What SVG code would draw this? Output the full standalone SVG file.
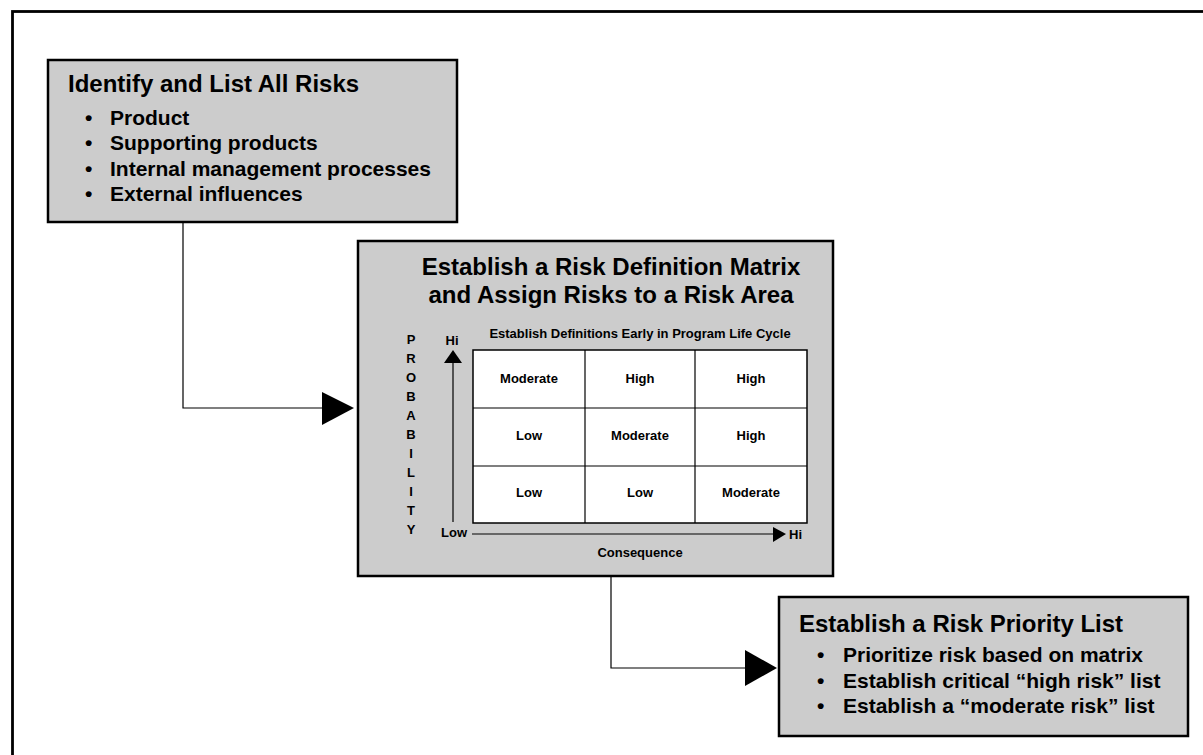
<svg xmlns="http://www.w3.org/2000/svg" width="1203" height="755" viewBox="0 0 1203 755">
<style>
.box{fill:#cccccc;stroke:#000;stroke-width:2.5}
.t{font-family:"Liberation Sans",Arial,sans-serif;font-weight:bold;fill:#000}
.title{font-size:24px}
.item{font-size:21px}
.sm{font-size:13px}
.ln{fill:none;stroke:#000;stroke-width:1.2}
.cell{fill:#fff;stroke:#000;stroke-width:1.5}
.hd{fill:#000}
</style>
<rect x="0" y="0" width="1203" height="755" fill="#fff"/>
<rect id="frame" x="12.5" y="11.5" width="1210" height="760" fill="none" stroke="#000" stroke-width="2.8"/>

<g id="connectors">
<polyline class="ln" points="183,222 183,408 323,408"/>
<polygon class="hd" points="322,392 354,408 322,425"/>
<polyline class="ln" points="611,576 611,668 746,668"/>
<polygon class="hd" points="745,650 777,668 745,686"/>
</g>

<g id="node-identify">
<rect class="box" x="48" y="60" width="409" height="162"/>
<text class="t title" x="68" y="92">Identify and List All Risks</text>
<text class="t item" x="85" y="125">•</text><text class="t item" x="110" y="125">Product</text>
<text class="t item" x="85" y="150">•</text><text class="t item" x="110" y="150">Supporting products</text>
<text class="t item" x="85" y="176">•</text><text class="t item" x="110" y="176">Internal management processes</text>
<text class="t item" x="85" y="201">•</text><text class="t item" x="110" y="201">External influences</text>
</g>

<g id="node-matrix">
<rect class="box" x="358" y="241" width="475" height="335"/>
<text class="t title" x="611" y="275" text-anchor="middle">Establish a Risk Definition Matrix</text>
<text class="t title" x="611" y="303" text-anchor="middle">and Assign Risks to a Risk Area</text>
<text class="t sm" x="640" y="338" text-anchor="middle">Establish Definitions Early in Program Life Cycle</text>
<rect class="cell" x="473" y="350" width="334" height="173"/>
<line class="ln" x1="585" y1="350" x2="585" y2="523" stroke-width="1.5"/>
<line class="ln" x1="695" y1="350" x2="695" y2="523" stroke-width="1.5"/>
<line class="ln" x1="473" y1="408" x2="807" y2="408" stroke-width="1.5"/>
<line class="ln" x1="473" y1="466" x2="807" y2="466" stroke-width="1.5"/>
<g text-anchor="middle">
<text class="t sm" x="529" y="383">Moderate</text>
<text class="t sm" x="640" y="383">High</text>
<text class="t sm" x="751" y="383">High</text>
<text class="t sm" x="529" y="440">Low</text>
<text class="t sm" x="640" y="440">Moderate</text>
<text class="t sm" x="751" y="440">High</text>
<text class="t sm" x="529" y="497">Low</text>
<text class="t sm" x="640" y="497">Low</text>
<text class="t sm" x="751" y="497">Moderate</text>
</g>
<line class="ln" x1="453" y1="522" x2="453" y2="360"/>
<polygon class="hd" points="444,363 453,350 462,363"/>
<line class="ln" x1="472" y1="534" x2="775" y2="534"/>
<polygon class="hd" points="773,527 786,534 773,542"/>
<text class="t sm" x="452" y="345" text-anchor="middle">Hi</text>
<text class="t sm" x="441" y="537">Low</text>
<text class="t sm" x="789" y="539">Hi</text>
<text class="t sm" x="640" y="557" text-anchor="middle">Consequence</text>
<g text-anchor="middle" class="t sm">
<text x="411" y="344">P</text>
<text x="411" y="363">R</text>
<text x="411" y="382">O</text>
<text x="411" y="401">B</text>
<text x="411" y="420">A</text>
<text x="411" y="439">B</text>
<text x="411" y="458">I</text>
<text x="411" y="477">L</text>
<text x="411" y="496">I</text>
<text x="411" y="515">T</text>
<text x="411" y="534">Y</text>
</g>
</g>

<g id="node-priority">
<rect class="box" x="779" y="597" width="409" height="139"/>
<text class="t title" x="799" y="632">Establish a Risk Priority List</text>
<text class="t item" x="817" y="662">•</text><text class="t item" x="843" y="662">Prioritize risk based on matrix</text>
<text class="t item" x="817" y="688">•</text><text class="t item" x="843" y="688">Establish critical “high risk” list</text>
<text class="t item" x="817" y="713">•</text><text class="t item" x="843" y="713">Establish a “moderate risk” list</text>
</g>
</svg>
